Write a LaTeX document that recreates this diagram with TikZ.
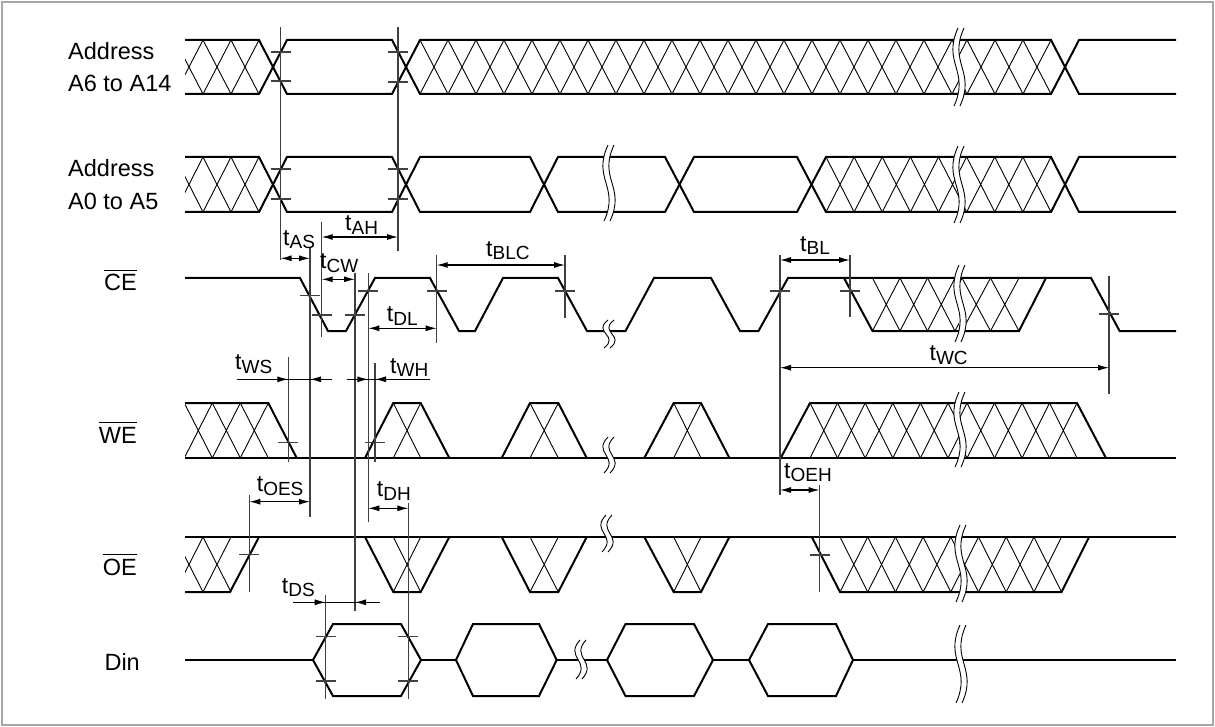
\documentclass[tikz,border=0pt]{standalone}
\usepackage{fontspec}
\setmainfont{Liberation Sans}
\usetikzlibrary{arrows.meta}
\tikzset{
 sig/.style={line width=2pt, black, line join=miter},
 hatchl/.style={line width=0.9pt, black},
 refl/.style={line width=1.1pt, black!75},
 tickl/.style={line width=1.1pt, black!75},
 dim/.style={line width=1.1pt, black, {Latex[length=11pt,width=6pt]}-{Latex[length=11pt,width=6pt]}},
 dimr/.style={line width=1.1pt, black, -{Latex[length=11pt,width=6pt]}},
 dimline/.style={line width=1.1pt, black},
 lbl/.style={inner sep=0pt, font=\fontsize{23.5}{26}\selectfont},
 tl/.style={inner sep=0pt, anchor=base west, font=\fontsize{23}{25}\selectfont},
 brkl/.style={line width=0.9pt, black},
 frame/.style={line width=1.5pt, black!35},
}
\newcommand\xhatch[5]{\foreach \ii in {1,...,#3}{\draw[hatchl] ({#1+(\ii-1)*#2},#4) -- ({#1+\ii*#2},#5) ({#1+\ii*#2},#4) -- ({#1+(\ii-1)*#2},#5);}}
\newcommand\tickat[2]{\draw[tickl] ({#1-10},#2) -- ({#1+10},#2);}
\newcommand\breakmark[3]{%
 \fill[white] ({#1+2-3},#2) .. controls ({#1-14-3},{#2+0.45*(#3-#2)}) and ({#1+14-3},{#2+0.55*(#3-#2)}) .. ({#1-2-3},#3)
   -- ({#1-2+3},#3) .. controls ({#1+14+3},{#2+0.55*(#3-#2)}) and ({#1-14+3},{#2+0.45*(#3-#2)}) .. ({#1+2+3},#2) -- cycle;
 \draw[brkl] ({#1+2-3},#2) .. controls ({#1-14-3},{#2+0.45*(#3-#2)}) and ({#1+14-3},{#2+0.55*(#3-#2)}) .. ({#1-2-3},#3);
 \draw[brkl] ({#1+2+3},#2) .. controls ({#1-14+3},{#2+0.45*(#3-#2)}) and ({#1+14+3},{#2+0.55*(#3-#2)}) .. ({#1-2+3},#3);}
\newcommand\tmlab[1]{t\raisebox{-3.5pt}{\fontsize{19}{19}\selectfont #1}}
\newcommand\ovl[1]{\setbox0\hbox{#1}\vbox{\hrule height 1pt\kern 3.5pt\box0}}
\begin{document}
\begin{tikzpicture}[x=1pt,y=-1pt]
\useasboundingbox (0,0) rectangle (1215,727);
\draw[frame] (2,2) rectangle (1213,725);

% ---------- Row 1: Address A6 to A14
\begin{scope}\clip (185,30) rectangle (260,100); \xhatch{175}{28}{3}{40}{94}\end{scope}
\begin{scope}\clip (420,30) rectangle (959,100); \xhatch{420}{28}{20}{40}{94}\end{scope}
\begin{scope}\clip (959,30) rectangle (1051,100); \xhatch{939}{28}{4}{40}{94}\end{scope}
\draw[sig] (185,40)--(259,40)--(287,94)--(392,94)--(420,40)--(1051,40)--(1079,94)--(1176,94);
\draw[sig] (185,94)--(259,94)--(287,40)--(392,40)--(420,94)--(1051,94)--(1079,40)--(1176,40);

% ---------- Row 2: Address A0 to A5
\begin{scope}\clip (185,150) rectangle (260,220); \xhatch{175}{28}{3}{157}{212}\end{scope}
\xhatch{826}{28.125}{8}{157}{212}
\draw[sig] (185,157)--(259,157)--(287,212)--(392,212)--(420,157)--(530,157)--(558,212)--(665,212)--(694,157)--(797,157)--(826,212)--(1051,212)--(1079,157)--(1176,157);
\draw[sig] (185,212)--(259,212)--(287,157)--(392,157)--(420,212)--(530,212)--(558,157)--(665,157)--(694,212)--(797,212)--(826,157)--(1051,157)--(1079,212)--(1176,212);

% ---------- CE
\begin{scope}\clip (844,278)--(872.5,331)--(1019,331)--(1046,278)--cycle; \clip (800,260) rectangle (959,340); \xhatch{872.5}{27.5}{4}{278}{331}\end{scope}
\begin{scope}\clip (844,278)--(872.5,331)--(1019,331)--(1046,278)--cycle; \clip (959,260) rectangle (1100,340); \xhatch{933.5}{28.5}{3}{278}{331}\end{scope}
\draw[sig] (185,278)--(300,278)--(328,331)--(346,331)--(375,278)--(430,278)--(459,331)--(475,331)--(503,278)--(558,278)--(587,331)--(625.5,331)--(654,278)--(711,278)--(740,331)--(758.5,331)--(788,278)--(1091,278)--(1119.6,331)--(1176,331);
\draw[sig] (844,278)--(872.5,331)--(1019,331)--(1046,278);

% ---------- WE
\begin{scope}\clip (185,395) rectangle (270,465); \xhatch{156.3}{28}{4}{403}{458}\end{scope}
\xhatch{393.3}{27.4}{1}{403}{458}
\xhatch{530}{28.3}{1}{403}{458}
\xhatch{673.7}{27.3}{1}{403}{458}
\begin{scope}\clip (800,395) rectangle (959,465); \xhatch{810}{27.6}{7}{403}{458}\end{scope}
\begin{scope}\clip (959,395) rectangle (1100,465); \xhatch{939.5}{27.5}{5}{403}{458}\end{scope}
\draw[sig] (185,458)--(1176,458);
\draw[sig] (185,403)--(268.3,403)--(296.7,458);
\draw[sig] (365,458)--(393.3,403)--(420.7,403)--(449.3,458);
\draw[sig] (501.7,458)--(530,403)--(558.3,403)--(586.7,458);
\draw[sig] (644.3,458)--(673.7,403)--(701,403)--(729.4,458);
\draw[sig] (780.7,458)--(810,403)--(1077,403)--(1105.9,458);

% ---------- OE
\begin{scope}\clip (185,530) rectangle (232,600); \xhatch{175}{28}{2}{537}{592}\end{scope}
\xhatch{393.3}{27.4}{1}{537}{592}
\xhatch{530}{28.3}{1}{537}{592}
\xhatch{673.7}{27.3}{1}{537}{592}
\xhatch{840}{27.7}{8}{537}{592}
\draw[sig] (185,537)--(1176,537);
\draw[sig] (185,592)--(230,592)--(259,537);
\draw[sig] (365,537)--(393.3,592)--(420.7,592)--(449.3,537);
\draw[sig] (501.7,537)--(530,592)--(558.3,592)--(586.7,537);
\draw[sig] (644.3,537)--(673.7,592)--(701,592)--(729.4,537);
\draw[sig] (811.8,537)--(840,592)--(1061.6,592)--(1089,537);

% ---------- Din
\draw[sig] (185,660)--(313,660) (421,660)--(456,660) (556.7,660)--(607,660) (713,660)--(749,660) (853,660)--(1176,660);
\draw[sig] (313,660)--(333,624)--(401,624)--(421,660)--(401,696)--(333,696)--cycle;
\draw[sig] (456,660)--(473,624)--(539,624)--(556.7,660)--(539,696)--(473,696)--cycle;
\draw[sig] (607,660)--(625.5,624)--(694,624)--(713,660)--(694,696)--(625.5,696)--cycle;
\draw[sig] (749,660)--(768,624)--(836,624)--(853,660)--(836,696)--(768,696)--cycle;

% ---------- break marks
\breakmark{959}{28}{106}
\breakmark{609}{145}{221}
\breakmark{959}{146}{223}
\breakmark{609}{320}{348}
\breakmark{960}{265}{342}
\breakmark{609}{437}{473}
\breakmark{960}{392}{467}
\breakmark{607}{515}{552}
\breakmark{961}{525}{602}
\breakmark{581}{640}{679}
\breakmark{961}{625}{703}

% ---------- reference lines
\draw[refl] (280.5,27)--(280.5,260);
\draw[refl] (398,27)--(398,251);
\draw[refl] (310,247)--(310,517);
\draw[refl] (321.7,222)--(321.7,337);
\draw[refl] (355,273)--(355,611);
\draw[refl] (368.3,273)--(368.3,522);
\draw[refl] (436.7,255)--(436.7,343);
\draw[refl] (565,255)--(565,318);
\draw[refl] (288.3,357)--(288.3,462);
\draw[refl] (375,363)--(375,462);
\draw[refl] (249.3,495)--(249.3,592);
\draw[refl] (325.7,595)--(325.7,699);
\draw[refl] (408.3,503)--(408.3,699);
\draw[refl] (780,255)--(780,495);
\draw[refl] (850,255)--(850,317);
\draw[refl] (1109,276)--(1109,394);
\draw[refl] (819.6,485)--(819.6,592);

% ---------- ticks
\tickat{280.5}{52}\tickat{280.5}{81}\tickat{397.5}{52}\tickat{397.5}{82}
\tickat{280.5}{169}\tickat{280.5}{199}\tickat{397.5}{169}\tickat{397.5}{199}
\tickat{310}{295.7}\tickat{321.7}{315}\tickat{355}{315}\tickat{368}{291}
\tickat{436.7}{291}\tickat{565}{291}\tickat{780}{291}\tickat{850}{291}\tickat{1109}{314}
\tickat{288}{442.3}\tickat{375}{442.3}
\tickat{249}{554.3}\tickat{819.6}{555}
\tickat{325.7}{636.7}\tickat{325.7}{681}\tickat{408.3}{636.7}\tickat{408.3}{681}

% ---------- dimension arrows
\draw[dim] (280.5,258.3)--(310,258.3);
\draw[dim] (321.7,237)--(398,237);
\draw[dim] (321.7,279.3)--(355,279.3);
\draw[dim] (368.3,328.3)--(436.7,328.3);
\draw[dim] (436.7,265)--(565,265);
\draw[dim] (780,260)--(850,260);
\draw[dim] (780,367.7)--(1109,367.7);
\draw[dimline] (236.7,379.3)--(331.7,379.3);
\draw[dimr] (236.7,379.3)--(288.3,379.3);
\draw[dimr] (331.7,379.3)--(310,379.3);
\draw[dimline] (346.7,379.3)--(430,379.3);
\draw[dimr] (346.7,379.3)--(368.3,379.3);
\draw[dimr] (430,379.3)--(375,379.3);
\draw[dim] (249.3,501.7)--(310,501.7);
\draw[dim] (368.3,508.3)--(408.3,508.3);
\draw[dim] (780,490)--(819.6,490);
\draw[dimline] (293,602.3)--(380,602.3);
\draw[dimr] (293,602.3)--(325.7,602.3);
\draw[dimr] (380,602.3)--(355,602.3);

% ---------- timing labels
\node[tl] (tAS) at (283,245.5) {\tmlab{AS}};
\node[tl] (tAH) at (345,231) {\tmlab{AH}};
\node[tl] (tCW) at (320,269) {\tmlab{CW}};
\node[tl] (tBLC) at (486,256.5) {\tmlab{BLC}};
\node[tl] (tDL) at (386.7,321.5) {\tmlab{DL}};
\node[tl] (tBL) at (800,251.5) {\tmlab{BL}};
\node[tl] (tWC) at (929.4,360.5) {\tmlab{WC}};
\node[tl] (tWS) at (235,369.5) {\tmlab{WS}};
\node[tl] (tWH) at (390,373) {\tmlab{WH}};
\node[tl] (tOES) at (256.7,491.5) {\tmlab{OES}};
\node[tl] (tDH) at (376.7,496.5) {\tmlab{DH}};
\node[tl] (tOEH) at (784,478) {\tmlab{OEH}};
\node[tl] (tDS) at (281.7,593) {\tmlab{DS}};

% ---------- signal labels
\node[lbl, anchor=base west] (a1) at (68,60) {Address};
\node[lbl, anchor=base west] (a1b) at (68,92) {A6 to A14};
\node[lbl, anchor=base west] (a2) at (68,177) {Address};
\node[lbl, anchor=base west] (a2b) at (68,210) {A0 to A5};
\node[lbl, anchor=base east] (ce) at (137,290.7) {\ovl{CE}};
\node[lbl, anchor=base east] (we) at (137,443) {\ovl{WE}};
\node[lbl, anchor=base east] (oe) at (137,575) {\ovl{OE}};
\node[lbl, anchor=base east] (din) at (140,670.7) {Din};
\end{tikzpicture}
\end{document}
